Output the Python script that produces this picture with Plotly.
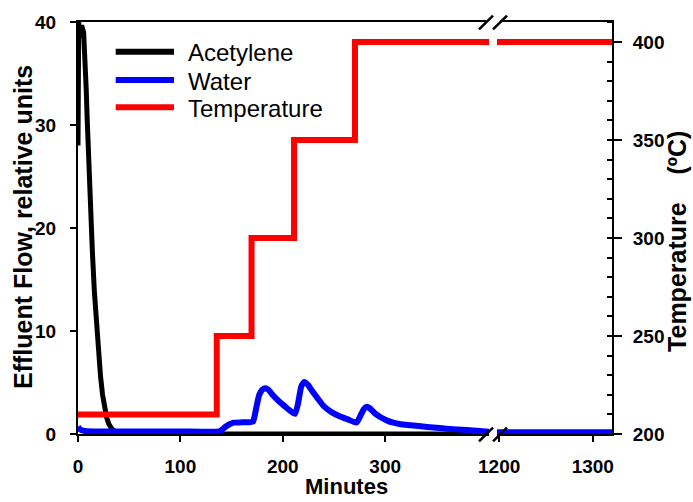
import plotly.graph_objects as go

# ---------------- data ----------------
acet_t = [0, 0.7, 1.4, 2.5, 4, 5.5, 7, 8, 9, 10, 12, 14, 16, 18, 20, 22, 24, 26, 28, 30,
          33, 36, 40, 45, 50, 100, 200, 300, 401.4]
acet_v = [28, 40, 38.5, 39.5, 39.5, 39, 36.5, 33.5, 30.5, 27.5, 22.6, 17.8, 13.8, 10.5, 7.8,
          5.6, 3.8, 2.5, 1.6, 1.0, 0.5, 0.25, 0.1, 0.03, 0, 0, 0, 0, 0]
acet_t_late = [1197.7, 1320.5]
acet_v_late = [0, 0]

water_t = [0, 2, 6, 15, 50, 100, 138, 141, 144, 148, 152, 160, 168, 171, 174, 177, 180, 183,
           186, 190, 197, 203, 208, 212, 215, 218, 221, 224, 230, 236, 240, 248, 256, 264,
           272, 275, 279, 282, 285, 290, 296, 302, 308, 314, 325, 335, 347, 360, 380, 401.4]
water_v = [0.7, 0.45, 0.3, 0.25, 0.25, 0.25, 0.25, 0.45, 0.7, 0.95, 1.1, 1.13, 1.15, 1.2,
           2.5, 3.8, 4.3, 4.45, 4.3, 3.8, 3.1, 2.6, 2.2, 1.95, 3.0, 4.6, 5.05, 4.85, 4.0,
           3.2, 2.7, 2.1, 1.7, 1.4, 1.1, 1.6, 2.4, 2.65, 2.5, 2.0, 1.6, 1.3, 1.1, 0.97,
           0.85, 0.75, 0.63, 0.52, 0.38, 0.22]
water_t_late = [1197.7, 1320.5]
water_v_late = [0.16, 0.16]

temp_t = [0, 135.5, 135.5, 169.5, 169.5, 211, 211, 270.5, 270.5, 401.4]
temp_v = [210, 210, 250, 250, 300, 300, 350, 350, 400, 400]
temp_t_late = [1197.7, 1320.5]
temp_v_late = [400, 400]

x_ticks_early = [0, 100, 200, 300]
x_ticks_late = [1200, 1300]
left_ticks = [0, 10, 20, 30, 40]
right_ticks = [200, 250, 300, 350, 400]
series_names = ["Acetylene", "Water", "Temperature"]
series_colors = ["black", "blue", "red"]

# ---------------- style ----------------
FONT = "Liberation Sans, Arial, sans-serif"
TICKFONT = dict(family=FONT, size=19, color="black", weight="bold")
W, H = 693, 502
L, R, T, B = 78, 81, 20, 68
PW, PH = W - L - R, H - T - B


def px(xp):
    return (xp - L) / PW


def py(yp):
    return (T + PH - yp) / PH


split_end = px(489)
split_start = px(497)

fig = go.Figure()
fig.add_trace(go.Scatter(x=acet_t, y=acet_v, xaxis="x", yaxis="y", mode="lines",
                         line=dict(color=series_colors[0], width=5), showlegend=False))
fig.add_trace(go.Scatter(x=acet_t_late, y=acet_v_late, xaxis="x2", yaxis="y", mode="lines",
                         line=dict(color=series_colors[0], width=5), showlegend=False))
fig.add_trace(go.Scatter(x=water_t, y=water_v, xaxis="x", yaxis="y", mode="lines",
                         line=dict(color=series_colors[1], width=6, shape="spline",
                                   smoothing=0.5), showlegend=False))
fig.add_trace(go.Scatter(x=water_t_late, y=water_v_late, xaxis="x2", yaxis="y", mode="lines",
                         line=dict(color=series_colors[1], width=6), showlegend=False))
fig.add_trace(go.Scatter(x=temp_t, y=temp_v, xaxis="x", yaxis="y2", mode="lines",
                         line=dict(color=series_colors[2], width=6), showlegend=False))
fig.add_trace(go.Scatter(x=temp_t_late, y=temp_v_late, xaxis="x2", yaxis="y2", mode="lines",
                         line=dict(color=series_colors[2], width=6), showlegend=False))

axis_common = dict(showline=True, linewidth=2, linecolor="black", showgrid=False,
                   zeroline=False, tickfont=TICKFONT, ticks="outside", tickwidth=2,
                   tickcolor="black")

fig.update_layout(
    width=W, height=H, autosize=False,
    margin=dict(l=L, r=R, t=T, b=B, pad=0),
    paper_bgcolor="white", plot_bgcolor="white",
    showlegend=False,
    xaxis=dict(domain=[0, split_end], range=[0, 401.4], anchor="y", tickvals=x_ticks_early,
               ticklen=6, mirror=True, ticklabelstandoff=8, **axis_common),
    xaxis2=dict(domain=[split_start, 1], range=[1197.7, 1320.5], anchor="y",
                tickvals=x_ticks_late, ticklen=6, mirror=True, ticklabelstandoff=8,
                **axis_common),
    yaxis=dict(domain=[0, 1], range=[0, 40], anchor="x", tickvals=left_ticks, ticklen=6,
               ticklabelstandoff=10, **axis_common),
    yaxis2=dict(overlaying="y", side="right", anchor="x2", range=[200, 410.2],
                tickvals=right_ticks, ticklen=8, ticklabelstandoff=7,
                minor=dict(dtick=10, tick0=200, ticks="inside", ticklen=5, tickwidth=2,
                           tickcolor="black"),
                **axis_common),
)

shapes = []
# white mask on top frame between break marks
shapes.append(dict(type="rect", xref="paper", yref="paper", x0=px(486), x1=px(500),
                   y0=py(22), y1=py(18), fillcolor="white", line=dict(width=0),
                   layer="above"))
# break marks
for cx in (486, 500):
    for cy in (20.5, 434.5):
        shapes.append(dict(type="line", xref="paper", yref="paper",
                           x0=px(cx - 7), y0=py(cy + 7), x1=px(cx + 7), y1=py(cy - 7),
                           line=dict(color="black", width=2.5), layer="above"))
# manual legend lines
leg_y = [50, 78.3, 105.7]
for name, col, yy in zip(series_names, series_colors, leg_y):
    shapes.append(dict(type="line", xref="paper", yref="paper", x0=px(115.7), x1=px(174),
                       y0=py(yy), y1=py(yy), line=dict(color=col, width=6), layer="above"))
fig.update_layout(shapes=shapes)

annotations = []
for name, yy in zip(series_names, leg_y):
    annotations.append(dict(text=name, xref="paper", yref="paper", x=px(186), y=py(yy + 1),
                            xanchor="left", yanchor="middle", showarrow=False,
                            font=dict(family=FONT, size=24, color="black")))
annotations.append(dict(text="Minutes", xref="paper", yref="paper", x=px(346), y=py(501),
                        xanchor="center", yanchor="bottom", showarrow=False,
                        font=dict(family=FONT, size=22, color="black", weight="bold")))
annotations.append(dict(text="Effluent Flow, relative units", xref="paper", yref="paper",
                        x=px(23), y=py(226), xanchor="center", yanchor="middle",
                        textangle=-90, showarrow=False,
                        font=dict(family=FONT, size=25, color="black", weight="bold")))
annotations.append(dict(text="Temperature\u00a0\u00a0\u00a0\u00a0(\u00baC)", xref="paper",
                        yref="paper", x=px(677), y=py(241), xanchor="center",
                        yanchor="middle", textangle=-90, showarrow=False,
                        font=dict(family=FONT, size=25, color="black", weight="bold")))
fig.update_layout(annotations=annotations)

fig.write_html("out.html")
